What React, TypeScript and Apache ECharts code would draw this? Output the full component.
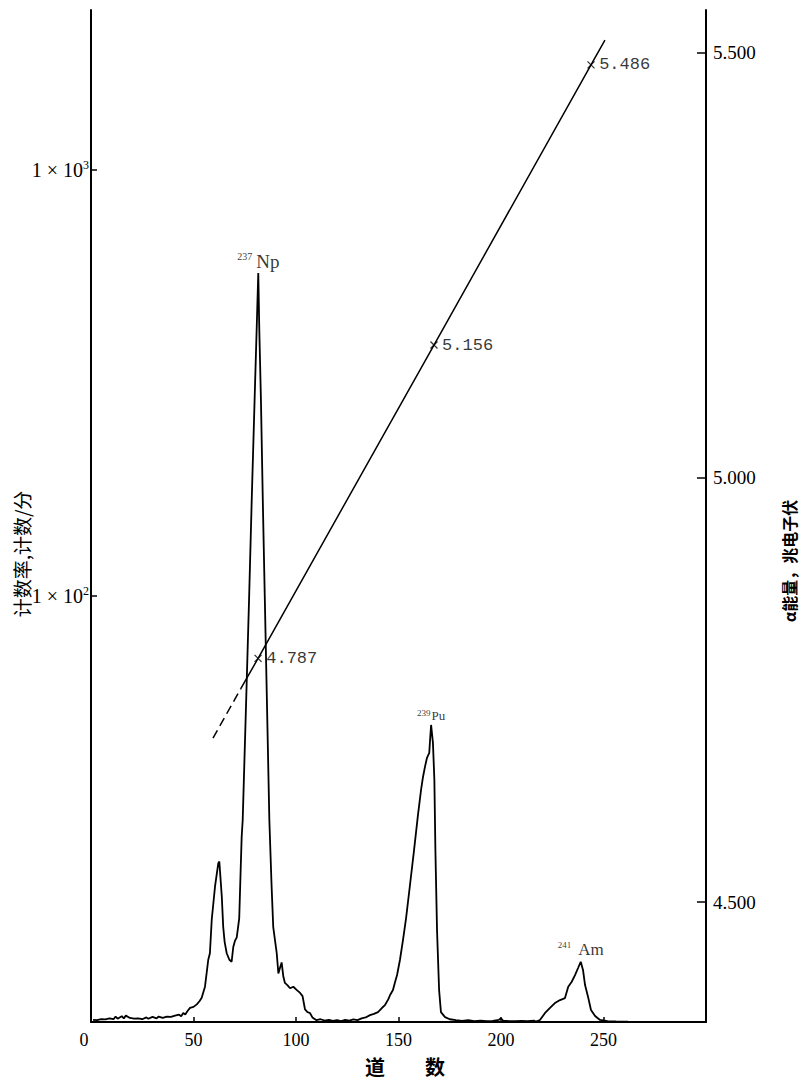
import React, { useEffect, useRef } from 'react';
import * as echarts from 'echarts';

// Alpha spectrum: [channel, counts per minute]
const spectrum: [number, number][] = [
  [1, 10.12], [3, 10.1], [5, 10.16], [7, 10.14], [9, 10.2], [11, 10.15], [12, 10.3], [13, 10.18],
  [15, 10.32], [16, 10.2], [17, 10.35], [19, 10.22], [21, 10.18], [23, 10.2], [25, 10.15], [27, 10.25],
  [28, 10.18], [30, 10.28], [32, 10.2], [33, 10.3], [35, 10.22], [37, 10.3], [39, 10.28], [41, 10.35],
  [43, 10.4], [44, 10.32], [45, 10.5], [46, 10.42], [47, 10.6], [48.3, 10.79], [50, 10.85], [51.6, 11.0],
  [53, 11.2], [54, 11.4], [55.6, 12.1], [57.2, 14.0], [58, 14.5], [58.9, 17.4], [60.5, 20.8], [62.1, 23.6],
  [62.6, 23.8], [63.8, 19.7], [64.5, 16.7], [65.2, 15.4], [66.2, 14.5], [67.5, 14.0], [68.6, 13.85], [69.4, 15.0],
  [70.2, 15.5], [71.1, 15.8], [72.3, 17.5], [73.0, 22.7], [73.5, 27.2], [74.0, 29.8], [75.7, 57], [77.1, 98],
  [78.4, 168], [79.8, 288], [80.8, 421], [81.6, 573], [82.1, 421], [82.9, 288], [83.8, 168], [84.8, 98],
  [85.8, 57], [87.0, 29.8], [88.1, 20.8], [88.9, 16.7], [90.6, 14.5], [91.4, 13.0], [92.2, 13.4], [93.0, 13.8],
  [93.8, 12.8], [94.6, 12.35], [95.8, 12.2], [97.1, 12.0], [98.7, 12.1], [100.3, 11.9], [102.0, 11.7], [103.2, 11.5],
  [104.4, 10.7], [105.6, 10.55], [106.8, 10.5], [108, 10.25], [110, 10.1], [112, 10.15], [114, 10.08], [116, 10.12],
  [118, 10.06], [120, 10.1], [122, 10.05], [124, 10.12], [126, 10.08], [128, 10.14], [130, 10.1], [132, 10.2],
  [134, 10.25], [136.1, 10.38], [138, 10.45], [140, 10.55], [142, 10.8], [143.4, 10.96], [145, 11.3], [145.9, 11.57],
  [147.3, 11.89], [148.3, 12.4], [149.3, 12.89], [150.7, 13.98], [152.2, 15.58], [153.7, 17.54], [155.6, 20.97], [157.6, 25.34],
  [159.5, 30.62], [161.0, 35.05], [161.95, 37.6], [162.9, 39.7], [163.9, 41.7], [165.0, 42.8], [165.4, 45.9], [165.9, 49.8],
  [166.8, 45.2], [167.5, 37.0], [168.0, 25.3], [168.8, 16.4], [169.8, 11.9], [170.7, 10.55], [172.7, 10.27], [175, 10.15],
  [178, 10.1], [181, 10.06], [184, 10.1], [187, 10.05], [190, 10.08], [193, 10.04], [196, 10.06], [199, 10.12],
  [200, 10.2], [201, 10.08], [204, 10.05], [207, 10.04], [210, 10.06], [213, 10.05], [216, 10.08], [217, 10.02],
  [219.0, 10.11], [221.5, 10.5], [223.9, 10.79], [226.3, 11.08], [228.8, 11.26], [231.2, 11.38], [232.8, 12.1], [234.5, 12.43],
  [236.1, 12.89], [237.6, 13.39], [238.9, 13.85], [240.0, 13.25], [241.0, 12.21], [242.6, 11.38], [243.9, 10.67], [245.9, 10.33],
  [248.3, 10.11], [252, 10.05], [256, 10.03], [262, 10.02], [270, 10.01], [280, 10.01], [290, 10.0], [298, 10.0],
];

// Energy calibration line: [channel, energy MeV]
const calibLine: [number, number][] = [
  [59.5, 4.693], [73.0, 4.751], [81.5, 4.787], [167.3, 5.156], [243.9, 5.486], [250.7, 5.515],
];
const calibPoints: [number, number][] = [[81.5, 4.787], [167.3, 5.156], [243.9, 5.486]];
const calibLabels = ['4.787', '5.156', '5.486'];

// Peaks
const peakPoints: [number, number][] = [[81.6, 573], [165.9, 49.8], [238.9, 13.85]];
const peakMass = ['237', '239', '241'];
const peakElement = ['Np', 'Pu', 'Am'];

const xTickValues = [0, 50, 100, 150, 200, 250];
const xInnerTicks = [50, 100, 150, 200, 250];
const countTickValues = [100, 1000];
const energyTickValues = [4.5, 5.0, 5.5];

const SERIF = 'Liberation Serif';
const CJK = 'Noto Sans CJK SC';

export default function App() {
  const ref = useRef<HTMLDivElement>(null);
  useEffect(() => {
    const chart = echarts.init(ref.current!, null, { renderer: 'svg' });
    const peakStyles = [
      { m: 10, e: 19, gap: 4, dist: 1 },
      { m: 9, e: 13, gap: 1, dist: 2 },
      { m: 9, e: 17, gap: 7, dist: 3 },
    ];
    const option: any = {
      animation: false,
      backgroundColor: '#fff',
      grid: { left: 91, right: 96, top: 10, bottom: 61 },
      xAxis: {
        type: 'value',
        min: 0,
        max: 300,
        axisLine: { show: true, lineStyle: { color: '#000', width: 2 } },
        axisTick: { show: true, inside: true, length: 5, customValues: xInnerTicks, lineStyle: { color: '#000', width: 1.5 } },
        axisLabel: {
          customValues: xTickValues,
          margin: 9,
          color: '#000',
          fontFamily: SERIF,
          fontSize: 18,
          formatter: (v: number) => (v === 0 ? '{z|0}' : String(v)),
          rich: { z: { fontFamily: SERIF, fontSize: 18, color: '#000', padding: [0, 14, 0, 0] } },
        },
        splitLine: { show: false },
      },
      yAxis: [
        {
          type: 'log',
          logBase: 10,
          min: 10,
          max: 2374,
          position: 'left',
          axisLine: { show: true, lineStyle: { color: '#000', width: 2 } },
          axisTick: { show: true, inside: true, length: 6, customValues: countTickValues, lineStyle: { color: '#000', width: 1.5 } },
          axisLabel: {
            customValues: countTickValues,
            margin: 2,
            color: '#000',
            formatter: (v: number) => `{a|1 × 10}{s|${Math.round(Math.log10(v))}}`,
            rich: {
              a: { fontFamily: SERIF, fontSize: 20, color: '#000', lineHeight: 22 },
              s: { fontFamily: SERIF, fontSize: 12, color: '#000', lineHeight: 12, verticalAlign: 'top' },
            },
          },
          splitLine: { show: false },
          minorTick: { show: false },
        },
        {
          type: 'value',
          min: 4.3587,
          max: 5.5506,
          position: 'right',
          axisLine: { show: true, lineStyle: { color: '#000', width: 2 } },
          axisTick: { show: true, inside: true, length: 9, customValues: energyTickValues, lineStyle: { color: '#000', width: 1.5 } },
          axisLabel: {
            customValues: energyTickValues,
            margin: 7,
            color: '#000',
            fontFamily: SERIF,
            fontSize: 19,
            formatter: (v: number) => v.toFixed(3),
          },
          splitLine: { show: false },
        },
      ],
      graphic: [
        {
          type: 'text',
          x: 365,
          y: 1066,
          style: { text: '道　　数', font: `bold 20px "${CJK}"`, fill: '#000', align: 'left', verticalAlign: 'middle' },
        },
        {
          type: 'text',
          x: 21,
          y: 554,
          rotation: Math.PI / 2,
          style: { text: '计数率,计数/分', font: `19px "${CJK}"`, fill: '#000', align: 'center', verticalAlign: 'middle' },
        },
        {
          type: 'text',
          x: 789,
          y: 561,
          rotation: Math.PI / 2,
          style: { text: 'α能量，兆电子伏', font: `bold 16px "${CJK}"`, fill: '#000', align: 'center', verticalAlign: 'middle' },
        },
      ],
      series: [
        {
          type: 'line',
          name: 'spectrum',
          xAxisIndex: 0,
          yAxisIndex: 0,
          data: spectrum,
          symbol: 'none',
          lineStyle: { color: '#000', width: 1.8 },
          z: 3,
        },
        {
          type: 'line',
          name: 'calib-dashed',
          yAxisIndex: 1,
          data: calibLine.slice(0, 2),
          symbol: 'none',
          lineStyle: { color: '#000', width: 1.5, type: [9, 5] },
        },
        {
          type: 'line',
          name: 'calib',
          yAxisIndex: 1,
          data: calibLine.slice(1),
          symbol: 'none',
          lineStyle: { color: '#000', width: 1.5 },
        },
        {
          type: 'scatter',
          name: 'calib-points',
          yAxisIndex: 1,
          data: calibPoints,
          symbol: 'path://M0,0L10,10M10,0L0,10',
          symbolSize: 7,
          itemStyle: { color: 'rgba(0,0,0,0)', borderColor: '#000', borderWidth: 1.3 },
          label: {
            show: true,
            position: 'right',
            distance: 4,
            color: '#000',
            textBorderWidth: 0,
            fontFamily: 'Liberation Mono',
            fontSize: 17,
            formatter: (p: any) => calibLabels[p.dataIndex],
          },
          z: 4,
        },
        {
          type: 'scatter',
          name: 'peaks',
          yAxisIndex: 0,
          symbolSize: 0.1,
          itemStyle: { color: 'rgba(0,0,0,0)' },
          data: peakPoints.map((pt, i) => ({
            value: pt,
            label: {
              show: true,
              position: 'top',
              distance: peakStyles[i].dist,
              color: '#000',
              textBorderWidth: 0,
              formatter: `{m|${peakMass[i]}}{e|${peakElement[i]}}`,
              rich: {
                m: {
                  fontFamily: SERIF,
                  fontSize: peakStyles[i].m,
                  color: '#000',
                  lineHeight: peakStyles[i].m + 2,
                  verticalAlign: 'top',
                  padding: [0, peakStyles[i].gap, 0, 0],
                },
                e: { fontFamily: SERIF, fontSize: peakStyles[i].e, color: '#000', lineHeight: peakStyles[i].e + 1 },
              },
            },
          })),
          z: 5,
        },
      ],
    };
    chart.setOption(option);
    return () => chart.dispose();
  }, []);
  return <div ref={ref} style={{ position: 'absolute', left: 0, top: 0, width: 802, height: 1083 }} />;
}
